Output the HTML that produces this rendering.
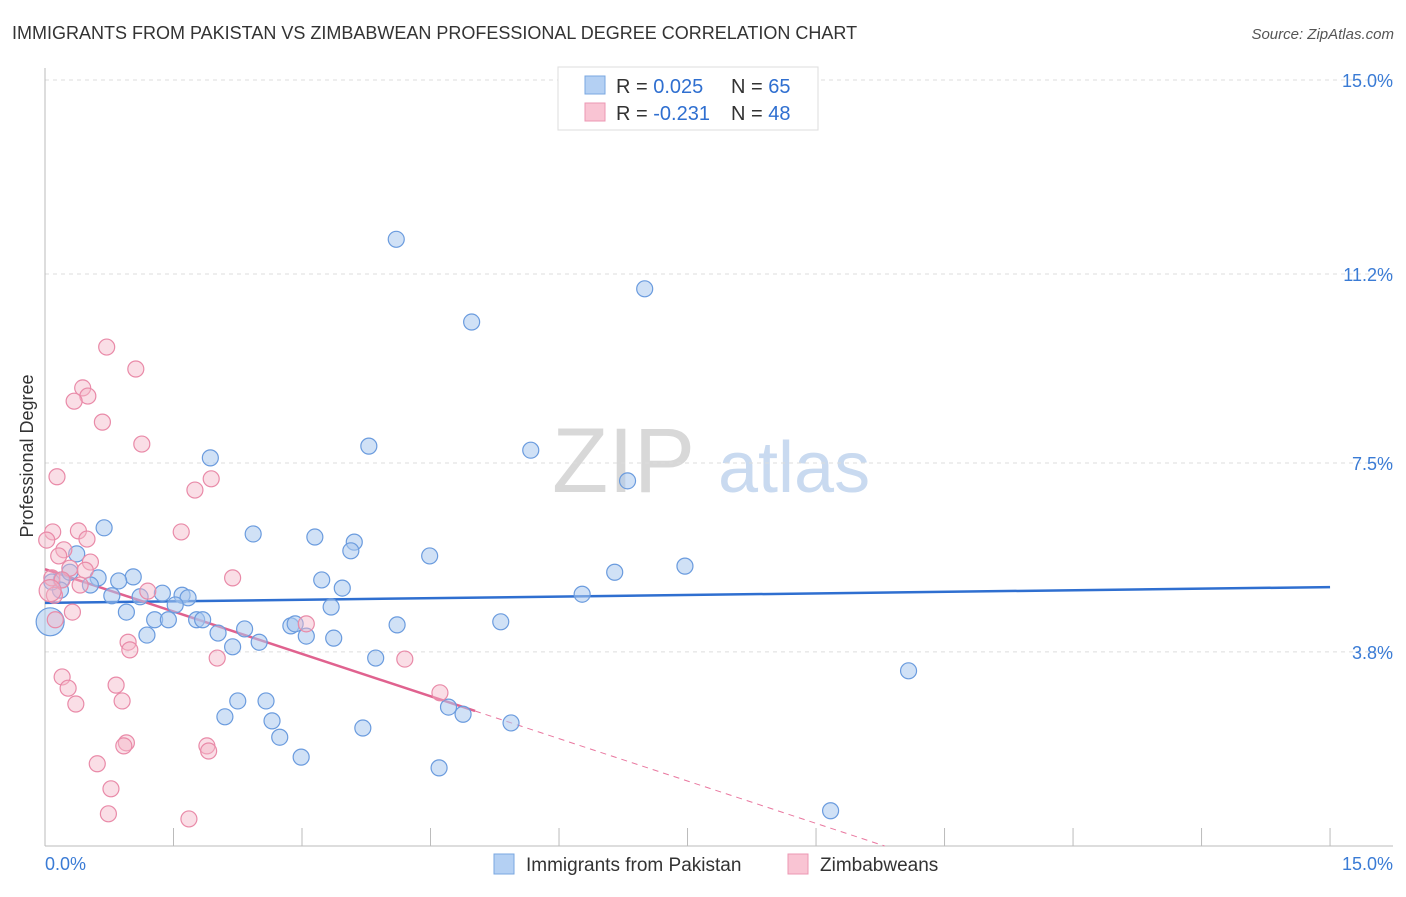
<!DOCTYPE html>
<html><head><meta charset="utf-8"><style>
body{margin:0;background:#fff;font-family:"Liberation Sans",sans-serif;}
svg text{font-family:"Liberation Sans",sans-serif;}
</style></head><body>
<svg id="chart" width="1406" height="892">
<text x="12" y="39" font-size="18" fill="#333">IMMIGRANTS FROM PAKISTAN VS ZIMBABWEAN PROFESSIONAL DEGREE CORRELATION CHART</text>
<text x="1394" y="39" font-size="15" fill="#555" font-style="italic" text-anchor="end">Source: ZipAtlas.com</text>
<g>
<text x="552" y="492" font-size="92" font-family="Liberation Serif" fill="#d8d8d8">ZIP</text>
<text x="718" y="492" font-size="72" fill="#c9daf0">atlas</text>
</g>
<g id="grid"></g><g id="axes"></g>
<text transform="translate(33,456) rotate(-90)" font-size="18" fill="#333" text-anchor="middle">Professional Degree</text>
<g id="lines"></g><g id="pts"></g>
<g>
<rect x="558" y="67" width="260" height="63" fill="#fff" stroke="#ddd"/>
<rect x="585" y="76" width="20" height="18" fill="#b4d0f3" stroke="#7aa7e0"/>
<rect x="585" y="103" width="20" height="18" fill="#f9c4d3" stroke="#ec97b3"/>
<text x="616" y="93" font-size="20" fill="#333">R = <tspan fill="#2f6fd0">0.025</tspan><tspan x="731">N = </tspan><tspan fill="#2f6fd0">65</tspan></text>
<text x="616" y="120" font-size="20" fill="#333">R = <tspan fill="#2f6fd0">-0.231</tspan><tspan x="731">N = </tspan><tspan fill="#2f6fd0">48</tspan></text>
</g>
<g>
<rect x="494" y="854" width="20" height="20" fill="#b4d0f3" stroke="#7aa7e0"/>
<text x="526" y="871" font-size="19" fill="#333">Immigrants from Pakistan</text>
<rect x="788" y="854" width="20" height="20" fill="#f9c4d3" stroke="#ec97b3"/>
<text x="820" y="871" font-size="19" fill="#333">Zimbabweans</text>
</g>
</svg>
<script>
const yTicks=[15.0,11.2,7.5,3.8];
const yTickLabels=["15.0%","11.2%","7.5%","3.8%"];
const xTickLabels=["0.0%","15.0%"];
const blueX=[4.10,7.00,4.98,1.93,3.78,5.67,6.80,0.69,2.43,3.15,3.61,3.57,4.49,0.37,6.65,7.47,1.03,0.62,0.86,3.23,3.47,0.19,0.29,0.53,0.18,1.37,1.60,1.67,1.11,0.78,6.27,3.34,1.52,0.95,1.28,1.44,1.77,1.84,5.32,4.11,2.87,2.92,2.33,2.02,3.05,3.37,1.19,2.50,2.19,3.86,10.08,2.25,2.58,2.10,2.65,4.71,4.88,5.44,3.71,2.74,2.99,4.60,9.17,0.06,0.08];
const blueY=[11.88,10.91,10.26,7.60,7.83,7.75,7.15,6.23,6.11,6.05,5.95,5.78,5.68,5.72,5.36,5.48,5.27,5.25,5.19,5.21,5.05,5.21,5.36,5.11,5.01,4.95,4.91,4.86,4.88,4.90,4.93,4.68,4.72,4.58,4.43,4.43,4.43,4.43,4.39,4.33,4.31,4.35,4.25,4.17,4.11,4.07,4.13,3.99,3.90,3.68,3.43,2.84,2.84,2.53,2.45,2.72,2.58,2.41,2.31,2.13,1.74,1.53,0.69,4.39,5.17];
const pinkX=[0.72,1.06,0.44,0.50,0.34,0.67,1.13,0.14,1.94,1.75,1.59,0.09,0.39,0.02,0.49,0.22,0.16,0.53,0.29,0.47,0.08,0.41,1.20,2.19,0.20,0.11,0.32,0.12,0.97,0.99,2.01,4.20,3.05,0.20,0.27,0.83,0.36,0.90,4.61,0.95,0.92,1.89,1.91,0.61,0.77,0.74,1.68,0.06];
const pinkY=[9.77,9.34,8.97,8.81,8.71,8.30,7.87,7.23,7.19,6.97,6.15,6.15,6.17,5.99,6.01,5.80,5.68,5.56,5.44,5.40,5.25,5.11,4.99,5.25,5.21,4.91,4.58,4.43,3.99,3.84,3.68,3.66,4.35,3.31,3.09,3.15,2.78,2.84,3.00,2.02,1.96,1.96,1.86,1.61,1.12,0.63,0.53,5.00];
const blueFit=[4.76,5.07];
const pinkFit=[5.42,-0.553];
const pinkSolidEnd=5.02;
const X=v=>45+v*85.67, Y=v=>846-v*51.07;
const NS="http://www.w3.org/2000/svg";
function mk(t,a,parent){const e=document.createElementNS(NS,t);for(const k in a)e.setAttribute(k,a[k]);document.getElementById(parent).appendChild(e);return e;}
yTicks.forEach((t,i)=>{
 const l=mk('line',{x1:45,x2:1393,y1:Y(t),y2:Y(t),stroke:'#ddd','stroke-dasharray':'4,4'},'grid');
 
 
 const tx=mk('text',{x:1393,y:Y(t)+7,'font-size':18,fill:'#3a7bd5','text-anchor':'end'},'grid');
 tx.textContent=yTickLabels[i];
 
 
});
const ax=mk('line',{x1:45,x2:45,y1:68,y2:846,stroke:'#bbb'},'axes');


const bx=mk('line',{x1:45,x2:1393,y1:846,y2:846,stroke:'#bbb'},'axes');


for(let i=0;i<=10;i++){const t=mk('line',{x1:X(i*1.5),x2:X(i*1.5),y1:828,y2:846,stroke:'#bbb'},'axes');
 
 }
[[0,'start',45],[1,'end',1393]].forEach(([i,a,x])=>{const t=mk('text',{x:x,y:870,'font-size':18,fill:'#3a7bd5','text-anchor':a},'axes');t.textContent=xTickLabels[i];
 
 });
bluePts();pinkPts();
function bluePts(){blueX.forEach((x,i)=>{const c=mk('circle',{cx:X(x),cy:Y(blueY[i]),r:i==63?14:8,fill:'#a9c8ef','fill-opacity':0.55,stroke:'#6a9bde','stroke-width':1.2},'pts');
 
 });}
function pinkPts(){pinkX.forEach((x,i)=>{const c=mk('circle',{cx:X(x),cy:Y(pinkY[i]),r:i==47?11:8,fill:'#f5b5c8','fill-opacity':0.45,stroke:'#e98aa8','stroke-width':1.2},'pts');
 
 });}
const bl=mk('line',{x1:X(0),y1:Y(blueFit[0]),x2:X(15),y2:Y(blueFit[1]),stroke:'#2f6fd0','stroke-width':2.5},'lines');


const pe=-pinkFit[0]/pinkFit[1];
const pd=mk('line',{x1:X(pinkSolidEnd),y1:Y(pinkFit[0]+pinkFit[1]*pinkSolidEnd),x2:X(pe),y2:Y(0),stroke:'#e9779f','stroke-width':1,'stroke-dasharray':'6,5'},'lines');


const ps=mk('line',{x1:X(0),y1:Y(pinkFit[0]),x2:X(pinkSolidEnd),y2:Y(pinkFit[0]+pinkFit[1]*pinkSolidEnd),stroke:'#e0628f','stroke-width':2.5},'lines');


</script>
</body></html>
